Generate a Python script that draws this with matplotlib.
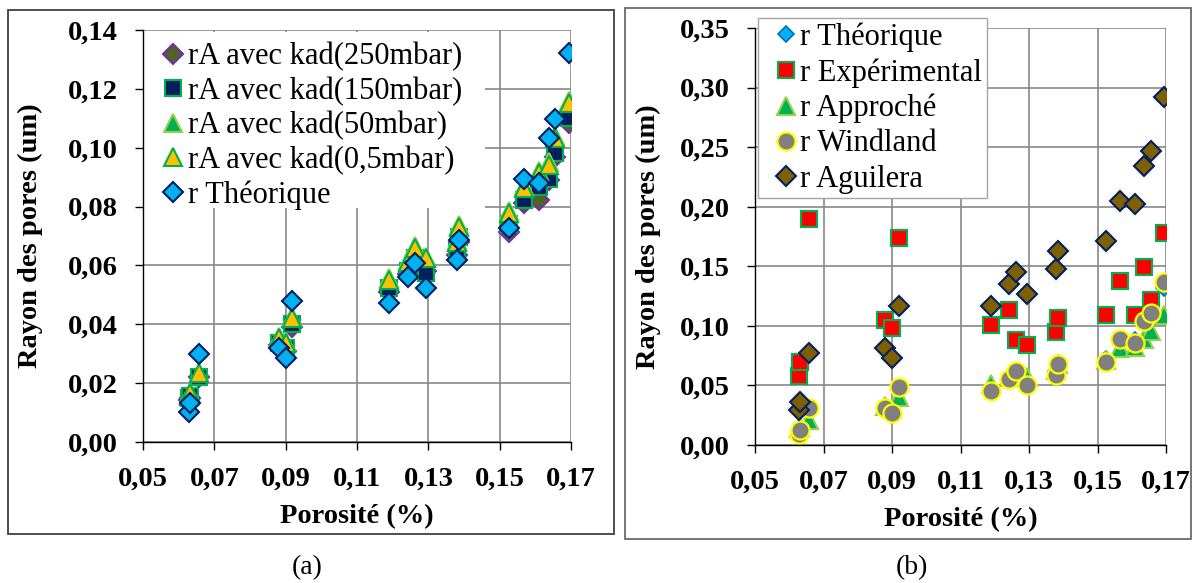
import numpy as np
import matplotlib
matplotlib.use("Agg")
import matplotlib.pyplot as plt
from matplotlib.patches import Rectangle

plt.rcParams['font.family'] = ['Liberation Serif', 'DejaVu Serif']

# porosity of the 18 samples (shared by both panels)
porosite = [0.0629, 0.0632, 0.0658, 0.0880, 0.0900, 0.0919, 0.1190, 0.1243, 0.1263,
            0.1294, 0.1380, 0.1386, 0.1525, 0.1567, 0.1609, 0.1637, 0.1656, 0.1693]

# panel (a)
r_theo = [0.0102, 0.0132, 0.0300, 0.0318, 0.0284, 0.0479, 0.0474, 0.0561, 0.0607,
          0.0522, 0.0618, 0.0686, 0.0726, 0.0892, 0.0879, 0.1032, 0.1097, 0.1321]
rA_250 = [0.0143, 0.0150, 0.0220, 0.0330, 0.0310, 0.0390, 0.0510, 0.0570, 0.0612,
          0.0580, 0.0635, 0.0680, 0.0715, 0.0811, 0.0822, 0.0890, 0.0970, 0.1083]
rA_150 = [0.0148, 0.0156, 0.0222, 0.0335, 0.0318, 0.0400, 0.0523, 0.0582, 0.0626,
          0.0575, 0.0647, 0.0695, 0.0740, 0.0824, 0.0868, 0.0895, 0.0982, 0.1100]
rA_50 = [0.0160, 0.0168, 0.0236, 0.0357, 0.0340, 0.0425, 0.0556, 0.0619, 0.0665,
         0.0630, 0.0688, 0.0738, 0.0785, 0.0870, 0.0921, 0.0950, 0.1041, 0.1160]
rA_05 = [0.0157, 0.0165, 0.0233, 0.0352, 0.0335, 0.0420, 0.0550, 0.0612, 0.0658,
         0.0624, 0.0680, 0.0731, 0.0777, 0.0862, 0.0913, 0.0941, 0.1032, 0.1151]

# panel (b)
r_exp = [0.058, 0.070, 0.190, 0.105, 0.098, 0.174, 0.101, 0.113, 0.088,
         0.084, 0.095, 0.107, 0.109, 0.138, 0.109, 0.149, 0.122, 0.178]
r_approche = [0.014, 0.015, 0.021, 0.033, 0.031, 0.040, 0.051, 0.057, 0.061,
              0.057, 0.063, 0.068, 0.071, 0.081, 0.082, 0.089, 0.096, 0.109]
r_windland = [0.009, 0.0126, 0.031, 0.031, 0.027, 0.049, 0.045, 0.055, 0.062,
              0.050, 0.059, 0.068, 0.070, 0.089, 0.086, 0.104, 0.111, 0.137]
r_aguilera = [0.029, 0.036, 0.077, 0.081, 0.073, 0.117, 0.117, 0.135, 0.145,
              0.127, 0.148, 0.163, 0.171, 0.205, 0.202, 0.234, 0.247, 0.292]

xticks = [0.05, 0.07, 0.09, 0.11, 0.13, 0.15, 0.17]
yticks_a = [0.00, 0.02, 0.04, 0.06, 0.08, 0.10, 0.12, 0.14]
yticks_b = [0.00, 0.05, 0.10, 0.15, 0.20, 0.25, 0.30, 0.35]

W, H = 1200, 583
fig = plt.figure(figsize=(W / 100, H / 100), dpi=100)


def px_rect(x0, y0, x1, y1):
    # figure-fraction rect from pixel box (top-left origin)
    return [x0 / W, 1 - y1 / H, (x1 - x0) / W, (y1 - y0) / H]


def comma(v):
    return ('%.2f' % v).replace('.', ',')


def style_axes(ax, yticks, ylim):
    ax.set_xlim(0.05, 0.17)
    ax.set_ylim(*ylim)
    ax.set_xticks(xticks)
    ax.set_yticks(yticks)
    ax.set_xticklabels([comma(v) for v in xticks], fontsize=20.5, fontweight='bold')
    ax.set_yticklabels([comma(v) for v in yticks], fontsize=20.5, fontweight='bold')
    ax.set_axisbelow(True)
    ax.grid(True, color='#878787', linewidth=1.2)
    for s in ['top', 'right']:
        ax.spines[s].set_visible(False)
    for s in ['left', 'bottom']:
        ax.spines[s].set_color('black')
        ax.spines[s].set_linewidth(1.0)
    ax.tick_params(direction='out', length=6, width=1, pad=12)
    ax.set_xlabel('Porosité (%)', fontsize=20.5, fontweight='bold')
    ax.set_ylabel('Rayon des pores (um)', fontsize=20.5, fontweight='bold')
    ax.xaxis.label.set_va('center')
    ax.yaxis.label.set_va('center')


# panel boxes
fig.patches.append(Rectangle((8 / W, 1 - 534 / H), 606 / W, 524 / H, transform=fig.transFigure,
                             fill=False, edgecolor='#404040', linewidth=1.3))
fig.patches.append(Rectangle((625 / W, 1 - 539 / H), 566 / W, 531 / H, transform=fig.transFigure,
                             fill=False, edgecolor='#6a6a6a', linewidth=1.3))

# ---------------- (a)
ax1 = fig.add_axes(px_rect(143, 30, 571, 442))
style_axes(ax1, yticks_a, (0, 0.14))
ax1.xaxis.set_label_coords(0.5, -0.182)
ax1.yaxis.set_label_coords(-0.264, 0.5)

ax1.plot(porosite, rA_250, 'D', ms=10, mfc='#4f6228', mec='#7030a0', mew=1.5, ls='none',
         label='rA avec kad(250mbar)')
ax1.plot(porosite, rA_150, 's', ms=12, mfc='#002060', mec='#00b050', mew=1.5, ls='none',
         label='rA avec kad(150mbar)')
ax1.plot(porosite, rA_50, '^', ms=13, mfc='#00b050', mec='#92d050', mew=1.5, ls='none',
         label='rA avec kad(50mbar)')
ax1.plot(porosite, rA_05, '^', ms=13, mfc='#ffc000', mec='#00b050', mew=1.5, ls='none',
         label='rA avec kad(0,5mbar)')
ax1.plot(porosite, r_theo, 'D', ms=10, mfc='#00b0f0', mec='#002060', mew=1.5, ls='none',
         label='r Théorique')

# white area behind legend hides the grid
ax1.add_patch(Rectangle((0, 0.568), 0.80, 0.427, transform=ax1.transAxes,
                        facecolor='white', edgecolor='none', zorder=1))
ax1.legend(loc='upper left', bbox_to_anchor=(0.042, 0.970), frameon=False, fontsize=22,
           borderpad=0, borderaxespad=0, handlelength=0.8, handletextpad=0.09,
           labelspacing=0.17)

fig.text(307 / W, 1 - 568 / H, '(a)', fontsize=20, ha='center', va='center')

# ---------------- (b)
ax2 = fig.add_axes(px_rect(755, 28, 1166, 445))
style_axes(ax2, yticks_b, (0, 0.35))
ax2.xaxis.set_label_coords(0.5, -0.18)
ax2.yaxis.set_label_coords(-0.26, 0.5)

ax2.plot(porosite, r_theo, 'D', ms=8, mfc='#00b0f0', mec='#0070c0', mew=1.2, ls='none',
         label='r Théorique')
ax2.plot(porosite, r_exp, 's', ms=12, mfc='#ff0000', mec='#00b050', mew=1.5, ls='none',
         label='r Expérimental')
ax2.plot(porosite, r_approche, '^', ms=13, mfc='#00b050', mec='#92d050', mew=1.5, ls='none',
         label='r Approché')
ax2.plot(porosite, r_windland, 'o', ms=13, mfc='#808080', mec='#ffff00', mew=1.6, ls='none',
         label='r Windland')
ax2.plot(porosite, r_aguilera, 'D', ms=10, mfc='#7f6000', mec='#002060', mew=1.5, ls='none',
         label='r Aguilera')

leg2 = ax2.legend(loc='upper left', bbox_to_anchor=(0.007, 1.024), frameon=True, fontsize=22,
                  borderpad=0.15, borderaxespad=0, handlelength=1.55, handletextpad=-0.32,
                  labelspacing=0.2, fancybox=False)
leg2.get_frame().set_edgecolor('#a6a6a6')
leg2.get_frame().set_linewidth(1.0)
leg2.get_frame().set_alpha(1)

fig.text(912 / W, 1 - 568 / H, '(b)', fontsize=20, ha='center', va='center')

fig.savefig('out.png', dpi=100)
